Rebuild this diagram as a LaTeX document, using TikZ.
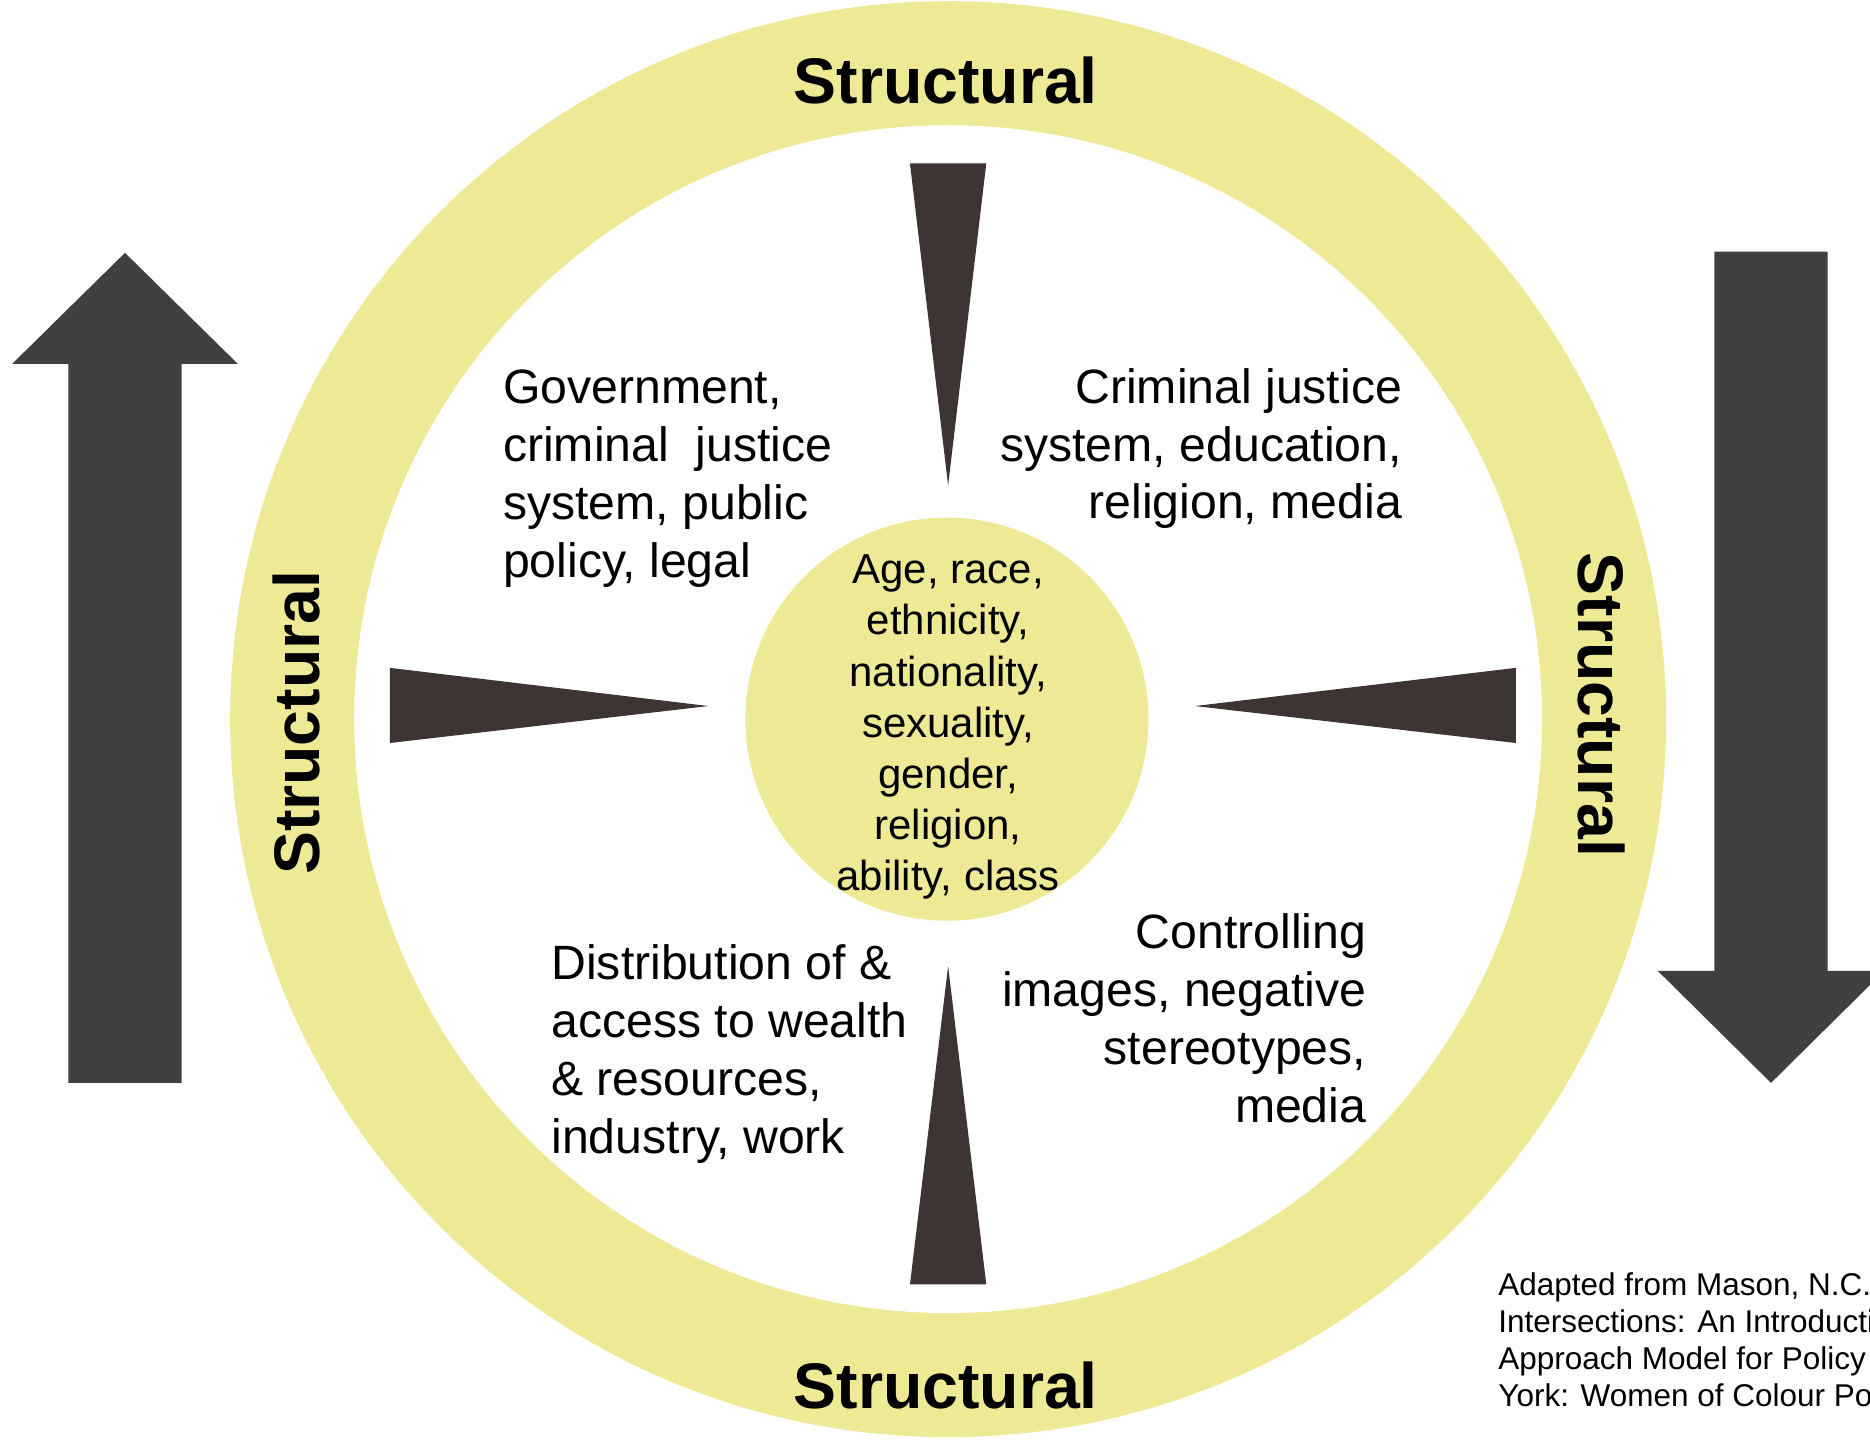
\documentclass[tikz,border=0pt]{standalone}
\usepackage{fontspec}
\setmainfont{Liberation Sans}
\definecolor{ringyellow}{RGB}{237,233,148}
\definecolor{wedge}{RGB}{62,52,52}
\definecolor{arrowgrey}{RGB}{64,64,64}
\tikzset{
  ringfill/.style={fill=ringyellow},
  wedgefill/.style={fill=wedge},
  bigarrow/.style={fill=arrowgrey},
  structlabel/.style={inner sep=0pt, font=\fontsize{27}{32}\selectfont\bfseries},
  bodytext/.style={inner sep=0pt, font=\fontsize{20.2}{24.2}\selectfont},
  coretext/.style={inner sep=0pt, align=center, font=\fontsize{17.6}{21.4}\selectfont},
  citetext/.style={inner sep=0pt, align=left, font=\fontsize{13.2}{15.6}\selectfont}
}
\begin{document}
\begin{tikzpicture}[x=0.5pt, y=-0.5pt]
\useasboundingbox (0,0) rectangle (1568,1207);
\clip (0,0) rectangle (1568,1207);
\fill[white] (0,0) rectangle (1568,1207);
% rings
\coordinate (ctr) at (795,603);
\fill[ringfill] (ctr) circle (602);
\fill[white] (ctr) circle (498);
\fill[ringfill] (794,603) circle (169);
% wedges
\coordinate (wt1) at (763,137); \coordinate (wt2) at (827,137); \coordinate (wtt) at (795,407);
\coordinate (wb1) at (763,1077); \coordinate (wb2) at (827,1077); \coordinate (wbt) at (795,810);
\coordinate (wl1) at (327,560); \coordinate (wl2) at (327,623); \coordinate (wlt) at (594,592);
\coordinate (wr1) at (1271,560); \coordinate (wr2) at (1271,623); \coordinate (wrt) at (1002,592);
\fill[wedgefill] (wt1) -- (wt2) -- (wtt) -- cycle;
\fill[wedgefill] (wb1) -- (wb2) -- (wbt) -- cycle;
\fill[wedgefill] (wl1) -- (wl2) -- (wlt) -- cycle;
\fill[wedgefill] (wr1) -- (wr2) -- (wrt) -- cycle;
% big arrows
\fill[bigarrow] (57.3,908) -- (57.3,305) -- (10.3,305) -- (104.8,212) -- (199.3,305) -- (152.3,305) -- (152.3,908) -- cycle;
\fill[bigarrow] (1437.5,211) -- (1532.5,211) -- (1532.5,814) -- (1580,814) -- (1485,908) -- (1390,814) -- (1437.5,814) -- cycle;
% Structural labels
\node[structlabel] (stop) at (793,67.5) {Structural};
\node[structlabel] (sbot) at (793,1162) {Structural};
\node[structlabel, rotate=90] (sleft) at (249,606) {Structural};
\node[structlabel, rotate=-90] (sright) at (1343,591) {Structural};
% quadrant texts
\node[bodytext, anchor=north west, align=left] (tl) at (421.5,310) {Government,\\criminal\ \ justice\\system, public\\policy, legal};
\node[bodytext, anchor=north east, align=right] (tr) at (1176,308.6) {Criminal justice\\system, education,\\religion, media};
\node[bodytext, anchor=north west, align=left] (bl) at (462,792) {Distribution of \&\\access to wealth\\\& resources,\\industry, work};
\node[bodytext, anchor=north east, align=right] (br) at (1146,766) {Controlling\\images, negative\\stereotypes,\\media};
% core
\node[coretext, anchor=north] (core) at (795,465) {Age, race,\\ethnicity,\\nationality,\\sexuality,\\gender,\\religion,\\ability, class};
% citation
\node[citetext, anchor=north west] (cite) at (1256,1066.5) {Adapted from Mason, N.C.\\Intersections: An Introducti\\Approach Model for Policy\\York: Women of Colour Po};
\end{tikzpicture}
\end{document}
